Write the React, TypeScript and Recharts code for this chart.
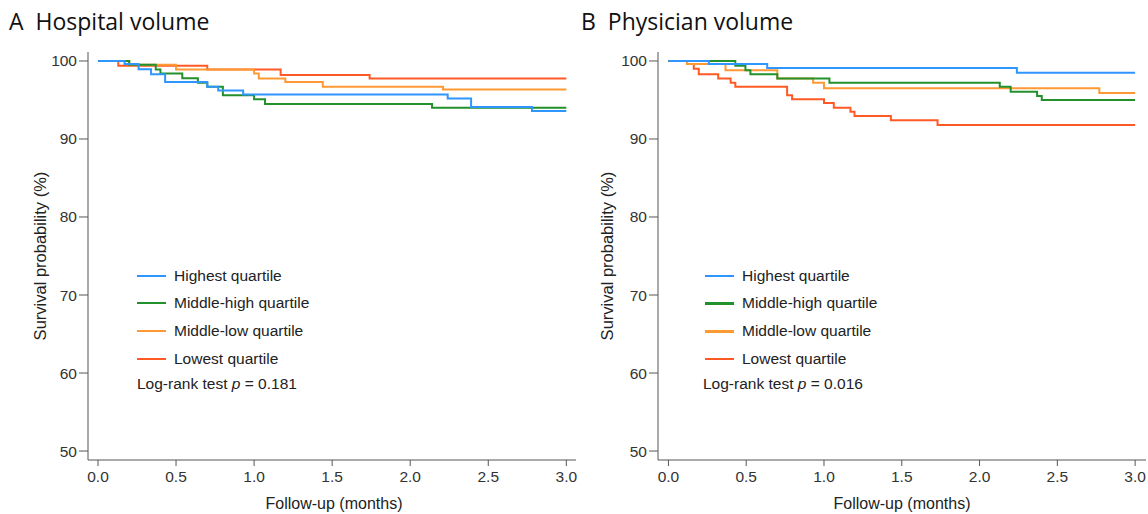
import React from 'react';
import { LineChart, Line, XAxis, YAxis } from 'recharts';

const SERIES_NAMES = ['Highest quartile', 'Middle-high quartile', 'Middle-low quartile', 'Lowest quartile'];
const SERIES_COLORS = ['#2f95ff', '#23912b', '#ff9933', '#ff5a26'];
const X_TICKS = [0, 0.5, 1, 1.5, 2, 2.5, 3];
const Y_TICKS = [50, 60, 70, 80, 90, 100];

// Panel A – Hospital volume (time in months, survival %)
const A_HIGH_T = [0, 0.17, 0.26, 0.34, 0.43, 0.70, 0.77, 0.93, 2.24, 2.39, 2.78, 3.0];
const A_HIGH_S = [100, 99.6, 98.95, 98.3, 97.3, 96.7, 96.2, 95.7, 95.2, 94.1, 93.6, 93.6];
const A_MIDHIGH_T = [0, 0.2, 0.37, 0.40, 0.54, 0.64, 0.70, 0.80, 1.0, 1.07, 2.14, 3.0];
const A_MIDHIGH_S = [100, 99.5, 98.9, 98.4, 97.8, 97.2, 96.7, 95.6, 95.1, 94.5, 94.0, 94.0];
const A_MIDLOW_T = [0, 0.2, 0.5, 1.0, 1.03, 1.2, 1.44, 2.21, 3.0];
const A_MIDLOW_S = [100, 99.5, 98.9, 98.4, 97.75, 97.3, 96.7, 96.35, 96.35];
const A_LOW_T = [0, 0.13, 0.70, 1.17, 1.74, 3.0];
const A_LOW_S = [100, 99.4, 98.9, 98.2, 97.75, 97.75];

// Panel B – Physician volume
const B_HIGH_T = [0, 0.26, 0.635, 2.24, 3.0];
const B_HIGH_S = [100, 99.6, 99.1, 98.5, 98.5];
const B_MIDHIGH_T = [0, 0.43, 0.495, 0.527, 0.70, 1.035, 2.13, 2.20, 2.37, 2.40, 3.0];
const B_MIDHIGH_S = [100, 99.4, 98.8, 98.3, 97.75, 97.2, 96.7, 96.05, 95.5, 95.0, 95.0];
const B_MIDLOW_T = [0, 0.12, 0.367, 0.70, 0.93, 1.0, 2.77, 3.0];
const B_MIDLOW_S = [100, 99.6, 98.8, 97.75, 97.2, 96.5, 95.9, 95.9];
const B_LOW_T = [0, 0.12, 0.163, 0.195, 0.32, 0.40, 0.43, 0.763, 0.795, 1.0, 1.063, 1.17, 1.196, 1.43, 1.73, 3.0];
const B_LOW_S = [100, 99.6, 99.0, 98.3, 97.75, 97.2, 96.7, 95.6, 95.1, 94.6, 94.0, 93.5, 92.95, 92.4, 91.8, 91.8];

const toPts = (t: number[], s: number[]) => t.map((x, i) => ({ x, y: s[i] }));

const FONT = '"Liberation Sans", Arial, sans-serif';
const AXIS = '#555';

type PanelProps = {
  left: number;
  width: number;
  yAxisWidth: number;
  marginRight: number;
  xDomain: [number, number];
  series: { x: number; y: number }[][];
  letter: string;
  title: string;
  titleLeft: number;
  pValue: string;
  legendLineX: number;
  legendTextX: number;
  logRankX: number;
  yLabelX: number;
  xLabelX: number;
  legendWidths: number[];
};

function Panel(p: PanelProps) {
  const drawOrder = [3, 2, 1, 0];
  const rows = [276, 303, 331, 359];
  return (
    <>
      <div style={{ position: 'absolute', left: p.left, top: 0, width: p.width, height: 514 }}>
        <LineChart width={p.width} height={514} margin={{ top: 52, right: p.marginRight, bottom: 24, left: 0 }}>
          <XAxis
            type="number"
            dataKey="x"
            domain={p.xDomain}
            ticks={X_TICKS}
            allowDataOverflow
            interval={0}
            height={30}
            tickSize={6}
            tickMargin={5}
            tickFormatter={(v: number) => v.toFixed(1)}
            axisLine={{ stroke: AXIS }}
            tickLine={{ stroke: AXIS }}
            tick={{ fill: '#333', fontSize: 15.5, fontFamily: FONT }}
          />
          <YAxis
            type="number"
            domain={[48.85, 101.15]}
            ticks={Y_TICKS}
            allowDataOverflow
            interval={0}
            width={p.yAxisWidth}
            tickSize={9}
            tickMargin={2}
            axisLine={{ stroke: AXIS }}
            tickLine={{ stroke: AXIS }}
            tick={{ fill: '#333', fontSize: 15.5, fontFamily: FONT }}
          />
          {drawOrder.map((i) => (
            <Line
              key={i}
              data={p.series[i]}
              dataKey="y"
              type="stepAfter"
              stroke={SERIES_COLORS[i]}
              strokeWidth={2}
              dot={false}
              activeDot={false}
              isAnimationActive={false}
            />
          ))}
        </LineChart>
      </div>
      <div style={{ position: 'absolute', left: p.titleLeft, top: 6, fontFamily: '"Open Sans", sans-serif', fontSize: 23, color: '#111', whiteSpace: 'nowrap', lineHeight: '30px' }}>
        {p.letter}&nbsp;&nbsp;{p.title}
      </div>
      {SERIES_NAMES.map((name, i) => (
        <React.Fragment key={name}>
          <div style={{ position: 'absolute', left: p.legendLineX, top: rows[i] - p.legendWidths[i] / 2, width: 29, height: p.legendWidths[i], background: SERIES_COLORS[i] }} />
          <div style={{ position: 'absolute', left: p.legendTextX, top: rows[i] - 10, fontFamily: FONT, fontSize: 15.5, lineHeight: '20px', color: '#222', whiteSpace: 'nowrap' }}>
            {name}
          </div>
        </React.Fragment>
      ))}
      <div style={{ position: 'absolute', left: p.logRankX, top: 374, fontFamily: FONT, fontSize: 15.5, lineHeight: '20px', color: '#222', whiteSpace: 'nowrap' }}>
        Log-rank test <i>p</i> = {p.pValue}
      </div>
      <div style={{ position: 'absolute', left: p.xLabelX - 150, width: 300, top: 494, textAlign: 'center', fontFamily: FONT, fontSize: 16, lineHeight: '20px', color: '#222' }}>
        Follow-up (months)
      </div>
      <div style={{ position: 'absolute', left: p.yLabelX - 150, top: 246, width: 300, height: 20, textAlign: 'center', transform: 'rotate(-90deg)', transformOrigin: '150px 10px', fontFamily: FONT, fontSize: 16.5, lineHeight: '20px', color: '#222', whiteSpace: 'nowrap' }}>
        Survival probability (%)
      </div>
    </>
  );
}

export default function App() {
  const aSeries = [toPts(A_HIGH_T, A_HIGH_S), toPts(A_MIDHIGH_T, A_MIDHIGH_S), toPts(A_MIDLOW_T, A_MIDLOW_S), toPts(A_LOW_T, A_LOW_S)];
  const bSeries = [toPts(B_HIGH_T, B_HIGH_S), toPts(B_MIDHIGH_T, B_MIDHIGH_S), toPts(B_MIDLOW_T, B_MIDLOW_S), toPts(B_LOW_T, B_LOW_S)];
  return (
    <div style={{ position: 'absolute', left: 0, top: 0, width: 1148, height: 514, background: '#fff', overflow: 'hidden' }}>
      <Panel
        left={0}
        width={580}
        yAxisWidth={88}
        marginRight={4}
        xDomain={[-0.064, 3.062]}
        series={aSeries}
        letter="A"
        title="Hospital volume"
        titleLeft={9}
        pValue="0.181"
        legendLineX={137}
        legendTextX={174}
        logRankX={137}
        yLabelX={40}
        xLabelX={334}
        legendWidths={[2, 2, 2, 2]}
      />
      <Panel
        left={580}
        width={568}
        yAxisWidth={78}
        marginRight={2}
        xDomain={[-0.067, 3.07]}
        series={bSeries}
        letter="B"
        title="Physician volume"
        titleLeft={581}
        pValue="0.016"
        legendLineX={705}
        legendTextX={742}
        logRankX={703}
        yLabelX={607}
        xLabelX={902}
        legendWidths={[2, 3, 3, 2]}
      />
    </div>
  );
}
